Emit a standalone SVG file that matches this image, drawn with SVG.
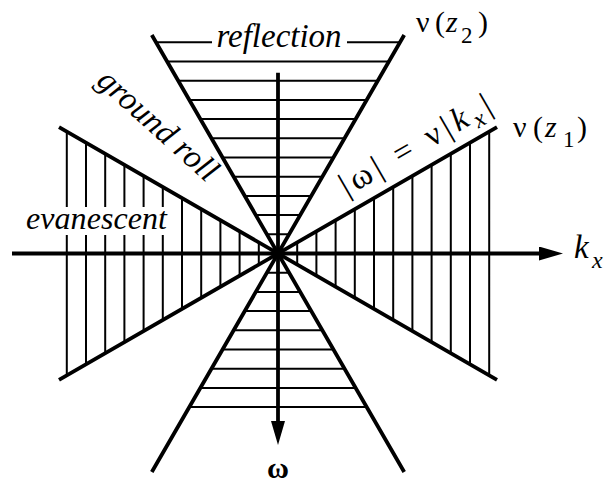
<svg xmlns="http://www.w3.org/2000/svg" width="606" height="483" viewBox="0 0 606 483">
<style>
.bg{fill:#fff}
.ax{stroke:#000;stroke-width:3.8;fill:none}
.dg{stroke:#000;stroke-width:3.8;fill:none;stroke-linecap:butt}
.ht{stroke:#000;stroke-width:2;fill:none}
.t{font-family:"Liberation Serif","Times New Roman",serif;fill:#000}
.i{font-style:italic}
</style>
<defs>
<marker id="arr" markerUnits="userSpaceOnUse" markerWidth="26" markerHeight="14" refX="2" refY="7" orient="auto" viewBox="0 0 26 14">
<path d="M0,0 L24,7 L0,14 z" fill="#000"/>
</marker>
</defs>
<rect class="bg" x="0" y="0" width="606" height="483"/>
<g id="hatch-reflection">
<path class="ht" d="M156.1,42.3H212 M347,42.3H399.9
M167.2,61.5H388.8 M178.2,80.7H377.8 M189.3,99.9H366.7 M200.4,119.1H355.6 M211.5,138.3H344.5
M222.6,157.5H333.4 M233.7,176.7H322.3 M244.7,195.9H311.3 M255.8,215.1H300.2 M266.9,234.3H289.1
M266.9,272.7H289.1 M255.8,291.9H300.2 M244.7,311.1H311.3 M233.7,330.3H322.3 M222.6,349.5H333.4
M211.5,368.7H344.5 M200.4,387.9H355.6 M189.3,407.1H366.7"/>
</g>
<g id="hatch-evanescent">
<path class="ht" d="M258.8,242.4V264.6 M239.6,231.3V275.7 M220.4,220.2V286.8 M201.2,209.2V297.8 M182,198.1V308.9
M162.8,187V207 M162.8,235V320 M143.6,175.9V207 M143.6,235V331.1 M124.4,164.8V207 M124.4,235V342.2
M105.2,153.7V207 M105.2,235V353.3 M86,142.7V207 M86,235V364.4 M66.8,131.6V207 M66.8,235V375.4
M297.2,242.4V264.6 M316.4,231.3V275.7 M335.6,220.2V286.8 M354.8,209.2V297.8 M374,198.1V308.9
M393.2,187V320 M412.4,175.9V331.1 M431.6,164.8V342.2 M450.8,153.7V353.3 M470,142.7V364.4 M489.2,131.6V375.4"/>
</g>
<g id="velocity-lines">
<path class="dg" d="M151.8,35 L404.2,472 M404.2,35 L151.8,472"/>
<path class="dg" d="M59,127.1 L497,379.9 M497,127.1 L59,379.9"/>
</g>
<g id="axes">
<path class="ax" d="M12,253.5 H541" marker-end="url(#arr)"/>
<path class="ax" d="M278,72.7 V423" marker-end="url(#arr)"/>
</g>
<g id="labels">
<text class="t i" x="216.5" y="46.5" font-size="33" textLength="125" lengthAdjust="spacing">reflection</text>
<text class="t i" x="26" y="229" font-size="32" textLength="141" lengthAdjust="spacing">evanescent</text>
<g transform="translate(151,133) rotate(42)">
<text class="t i" x="0" y="0" font-size="33" text-anchor="middle" textLength="150" lengthAdjust="spacing">ground roll</text>
</g>
<g transform="translate(278,253.5) rotate(-30)">
<text class="t" x="88" y="-15" font-size="33" textLength="170" lengthAdjust="spacing">|ω| = ν|<tspan class="i">k</tspan><tspan class="i" font-size="24" dy="7">x</tspan><tspan dy="-7">|</tspan></text>
</g>
<text class="t" font-size="30"><tspan x="416" y="32">ν</tspan><tspan x="435" y="32">(</tspan><tspan class="i" x="446" y="32">z</tspan><tspan x="461" y="43" font-size="23">2</tspan><tspan x="478" y="32">)</tspan></text>
<text class="t" font-size="30"><tspan x="513" y="137">ν</tspan><tspan x="533" y="137">(</tspan><tspan class="i" x="545" y="137">z</tspan><tspan x="563" y="147" font-size="23">1</tspan><tspan x="577" y="137">)</tspan></text>
<text class="t" font-size="33"><tspan class="i" x="574" y="258">k</tspan><tspan class="i" x="592" y="268" font-size="24">x</tspan></text>
<text class="t" x="278" y="478" font-size="30" text-anchor="middle" font-weight="bold">ω</text>
</g>
</svg>
